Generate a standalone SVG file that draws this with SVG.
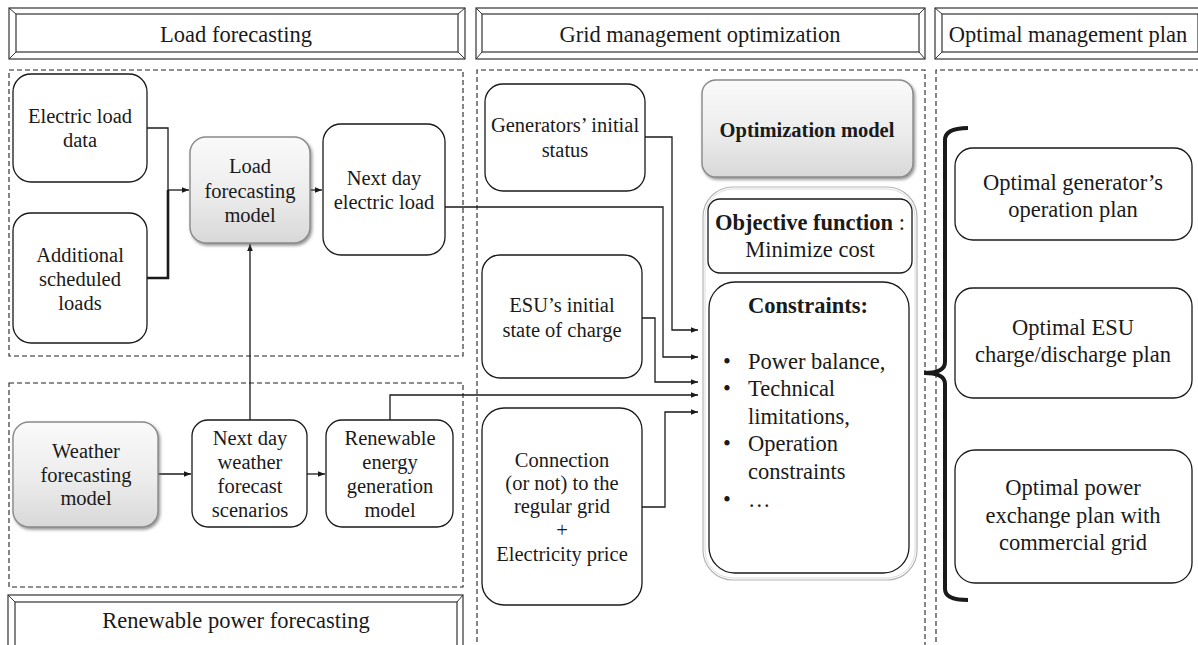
<svg xmlns="http://www.w3.org/2000/svg" width="1198" height="645" viewBox="0 0 1198 645">
<defs>
<style>
text{font-family:"Liberation Serif","Times New Roman",serif;fill:#1a1a1a;text-anchor:middle}
.b{font-size:20.5px}
.l{font-size:22.5px}
.h{font-size:22.5px}
.bold{font-weight:bold}
.box{fill:#fff;stroke:#1a1a1a;stroke-width:1.3}
.gbox{fill:url(#gg);stroke:#8a8a8a;stroke-width:1.4;filter:url(#sh)}
.dash{fill:none;stroke:#222;stroke-width:1.1;stroke-dasharray:5 3}
.fr{fill:#fff;stroke:#333;stroke-width:1.2}
.fl{stroke:#333;stroke-width:1}
.c{fill:none;stroke:#1a1a1a;stroke-width:1.3}
.ca{fill:none;stroke:#1a1a1a;stroke-width:1.3;marker-end:url(#ah)}
</style>
<linearGradient id="gg" x1="0" y1="0" x2="0" y2="1">
<stop offset="0" stop-color="#fafafa"/>
<stop offset="0.55" stop-color="#ececec"/>
<stop offset="1" stop-color="#d8d8d8"/>
</linearGradient>
<filter id="sh" x="-10%" y="-10%" width="130%" height="130%">
<feDropShadow dx="1.5" dy="2" stdDeviation="1.5" flood-color="#666" flood-opacity="0.7"/>
</filter>
<marker id="ah" viewBox="0 0 10 10" refX="10" refY="5" markerWidth="7" markerHeight="7" markerUnits="userSpaceOnUse" orient="auto">
<path d="M0,1 L10,5 L0,9 z" fill="#1a1a1a"/>
</marker>
</defs>

<g id="frames">
<g id="hdr-load">
<rect class="fr" x="9" y="8" width="456" height="51"/>
<rect class="fr" x="16" y="14" width="442" height="38"/>
<path class="fl" d="M9 8L16 14M465 8L458 14M9 59L16 52M465 59L458 52"/>
<text class="h" x="236" y="42">Load forecasting</text>
</g>
<g id="hdr-grid">
<rect class="fr" x="476" y="8" width="449" height="51"/>
<rect class="fr" x="482" y="14" width="437" height="38"/>
<path class="fl" d="M476 8L482 14M925 8L919 14M476 59L482 52M925 59L919 52"/>
<text class="h" x="700" y="42">Grid management optimization</text>
</g>
<g id="hdr-plan">
<rect class="fr" x="935" y="8" width="272" height="51"/>
<rect class="fr" x="942" y="14" width="256" height="38"/>
<path class="fl" d="M935 8L942 14M935 59L942 52"/>
<text class="h" x="1068" y="42">Optimal management plan</text>
</g>
<g id="hdr-ren">
<rect class="fr" x="8" y="595" width="455" height="57"/>
<rect class="fr" x="15" y="602" width="442" height="44"/>
<path class="fl" d="M8 595L15 602M463 595L457 602"/>
<text class="h" x="236" y="628">Renewable power forecasting</text>
</g>
<rect class="dash" x="9" y="70" width="454" height="286"/>
<rect class="dash" x="9" y="383" width="454" height="204"/>
<path class="dash" d="M477 650V70H925V650"/>
<path class="dash" d="M936 650V70H1205"/>
</g>

<g id="connectors">
<path class="c" d="M147 128H168V190"/>
<path fill="none" stroke="#1a1a1a" stroke-width="2.6" d="M147 278H168V190"/>
<path class="ca" d="M168 190H189"/>
<path class="ca" d="M310 190H322"/>
<path class="ca" d="M250 420V244"/>
<path class="ca" d="M158 474H191"/>
<path class="ca" d="M307 474H325"/>
<path class="ca" d="M645 137H672V330H698"/>
<path class="ca" d="M445 207H663V357H698"/>
<path class="ca" d="M642 318H655V382H698"/>
<path class="ca" d="M390 430V395H698"/>
<path class="ca" d="M642 507H665V412H698"/>
<path fill="none" stroke="#1a1a1a" stroke-width="4" d="M968 128Q945 128 945 140V362Q945 373 924 373Q945 373 945 384V589Q945 600 968 600"/>
</g>

<g id="n-eld"><rect class="box" x="13" y="74" width="134" height="108" rx="18"/><text class="b" x="80" y="123">Electric load</text><text class="b" x="80" y="147">data</text></g>
<g id="n-asl"><rect class="box" x="13" y="213" width="134" height="130" rx="18"/><text class="b" x="80" y="262">Additional</text><text class="b" x="80" y="286">scheduled</text><text class="b" x="80" y="310">loads</text></g>
<g id="n-lfm"><rect class="gbox" x="190" y="137" width="120" height="106" rx="16"/><text class="b" x="250" y="173">Load</text><text class="b" x="250" y="198">forecasting</text><text class="b" x="250" y="222">model</text></g>
<g id="n-ndel"><rect class="box" x="323" y="124" width="122" height="131" rx="18"/><text class="b" x="384" y="185">Next day</text><text class="b" x="384" y="209">electric load</text></g>
<g id="n-wfm"><rect class="gbox" x="13" y="422" width="145" height="105" rx="16"/><text class="b" x="86" y="458">Weather</text><text class="b" x="86" y="482">forecasting</text><text class="b" x="86" y="505">model</text></g>
<g id="n-ndw"><rect class="box" x="192" y="420" width="115" height="107" rx="16"/><text class="b" x="250" y="445">Next day</text><text class="b" x="250" y="469">weather</text><text class="b" x="250" y="493">forecast</text><text class="b" x="250" y="517">scenarios</text></g>
<g id="n-reg"><rect class="box" x="326" y="420" width="127" height="107" rx="16"/><text class="b" x="390" y="445">Renewable</text><text class="b" x="390" y="469">energy</text><text class="b" x="390" y="493">generation</text><text class="b" x="390" y="517">model</text></g>

<g id="n-gen"><rect class="box" x="485" y="84" width="160" height="107" rx="18"/><text class="b" x="565" y="132">Generators’ initial</text><text class="b" x="565" y="157">status</text></g>
<g id="n-esu"><rect class="box" x="482" y="255" width="160" height="123" rx="18"/><text class="b" x="562" y="312">ESU’s initial</text><text class="b" x="562" y="337">state of charge</text></g>
<g id="n-con"><rect class="box" x="482" y="408" width="160" height="197" rx="22"/><text class="b" x="562" y="467">Connection</text><text class="b" x="562" y="490">(or not) to the</text><text class="b" x="562" y="513">regular grid</text><text class="b" x="562" y="537">+</text><text class="b" x="562" y="561">Electricity price</text></g>
<g id="n-opt"><rect class="gbox" x="702" y="80" width="211" height="97" rx="14"/><text class="b bold" x="807" y="137">Optimization model</text></g>
<g id="n-cont">
<rect x="703" y="187" width="214" height="393" rx="30" fill="#fff" stroke="#b5b5b5" stroke-width="1.2"/>
<rect x="705" y="189" width="210" height="389" rx="28" fill="none" stroke="#dcdcdc" stroke-width="1"/>
</g>
<g id="n-obj"><rect class="box" x="708" y="199" width="204" height="74" rx="12"/><text class="l" x="810" y="230"><tspan class="bold">Objective function</tspan> :</text><text class="l" x="810" y="257">Minimize cost</text></g>
<g id="n-cons"><rect class="box" x="709" y="282" width="200" height="291" rx="26"/>
<text class="l bold" x="808" y="313">Constraints:</text>
<g>
<text class="l" x="723" y="369" style="text-anchor:start">•</text><text class="l" x="748" y="369" style="text-anchor:start">Power balance,</text>
<text class="l" x="723" y="396" style="text-anchor:start">•</text><text class="l" x="748" y="396" style="text-anchor:start">Technical</text>
<text class="l" x="748" y="424" style="text-anchor:start">limitations,</text>
<text class="l" x="723" y="451" style="text-anchor:start">•</text><text class="l" x="748" y="451" style="text-anchor:start">Operation</text>
<text class="l" x="748" y="479" style="text-anchor:start">constraints</text>
<text class="l" x="723" y="507" style="text-anchor:start">•</text><text class="l" x="748" y="507" style="text-anchor:start">…</text>
</g>
</g>

<g id="n-p1"><rect class="box" x="955" y="148" width="237" height="92" rx="18"/><text class="l" x="1073" y="190">Optimal generator’s</text><text class="l" x="1073" y="217">operation plan</text></g>
<g id="n-p2"><rect class="box" x="955" y="288" width="237" height="110" rx="18"/><text class="l" x="1073" y="335">Optimal ESU</text><text class="l" x="1073" y="362">charge/discharge plan</text></g>
<g id="n-p3"><rect class="box" x="955" y="450" width="237" height="133" rx="20"/><text class="l" x="1073" y="495">Optimal power</text><text class="l" x="1073" y="523">exchange plan with</text><text class="l" x="1073" y="550">commercial grid</text></g>
</svg>
